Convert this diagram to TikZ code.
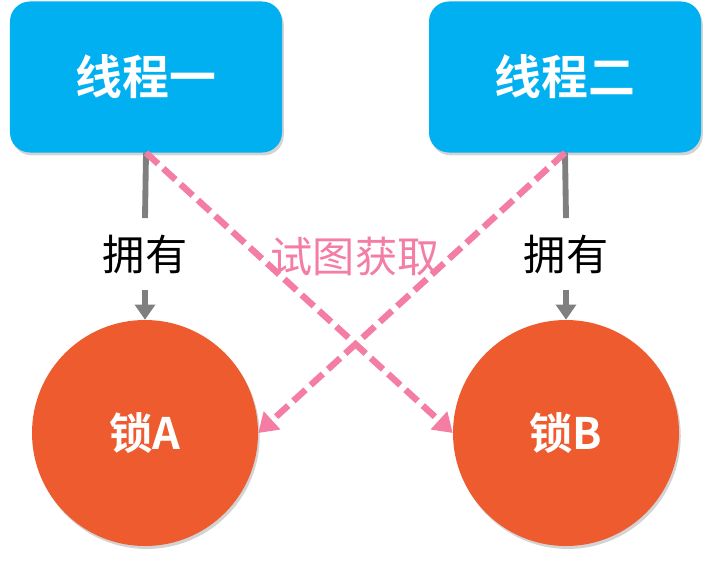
\documentclass[tikz,border=0pt]{standalone}
\usepackage{fontspec}
\usepackage{tikz}
\usetikzlibrary{positioning,arrows.meta,shadows}
\newfontfamily\cjk{Noto Sans CJK SC}[BoldFont={Noto Sans CJK SC Bold}]
\definecolor{threadblue}{HTML}{00B0F0}
\definecolor{lockred}{HTML}{EE5B2F}
\definecolor{trypink}{HTML}{F47DA4}
\definecolor{owngray}{HTML}{7F7F7F}

\tikzset{
  thread/.style={rounded corners=0.6cm,fill=threadblue,minimum width=8.16cm,minimum height=4.53cm,
    text=white,font=\cjk\bfseries\fontsize{40}{48}\selectfont,
    drop shadow={opacity=0.35,shadow xshift=1.5pt,shadow yshift=-2.5pt}},
  lock/.style={circle,fill=lockred,minimum size=6.78cm,inner sep=0pt,
    text=white,font=\cjk\bfseries\fontsize{37}{44}\selectfont,
    drop shadow={opacity=0.35,shadow xshift=1.5pt,shadow yshift=-2.5pt}},
  own/.style={font=\cjk\fontsize{36}{43}\selectfont,minimum height=61pt,inner sep=0pt},
  ownline/.style={draw=owngray,line width=5pt,-{Triangle[length=13pt,width=17pt]}},
  tryline/.style={draw=trypink,line width=5.5pt,dash pattern=on 14pt off 6pt,
    -{Triangle[length=16pt,width=20pt]}}
}

\begin{document}
\begin{tikzpicture}[x=0.03cm,y=-0.03cm]
  \useasboundingbox (0,0) rectangle (708,562);
  \node[thread] (t1) at (146,77) {线程一};
  \node[thread] (t2) at (565,77) {线程二};
  \node[lock] (lockA) at (145,433) {锁A};
  \node[lock] (lockB) at (566,433) {锁B};
  \node[own] (own1) at (145,254) {拥有};
  \node[own] (own2) at (566,254) {拥有};
  \node[font=\cjk\fontsize{36}{43}\selectfont,text=trypink] (try) at (355,257) {试图获取};

  \draw[ownline,-] (t1.south) -- (own1.north);
  \draw[ownline] (own1.south) -- (lockA.north);
  \draw[ownline,-] (t2.south) -- (own2.north);
  \draw[ownline] (own2.south) -- (lockB.north);

  \draw[tryline] (t1.south) -- (lockB.west);
  \draw[tryline] (t2.south) -- (lockA.east);
\end{tikzpicture}
\end{document}
